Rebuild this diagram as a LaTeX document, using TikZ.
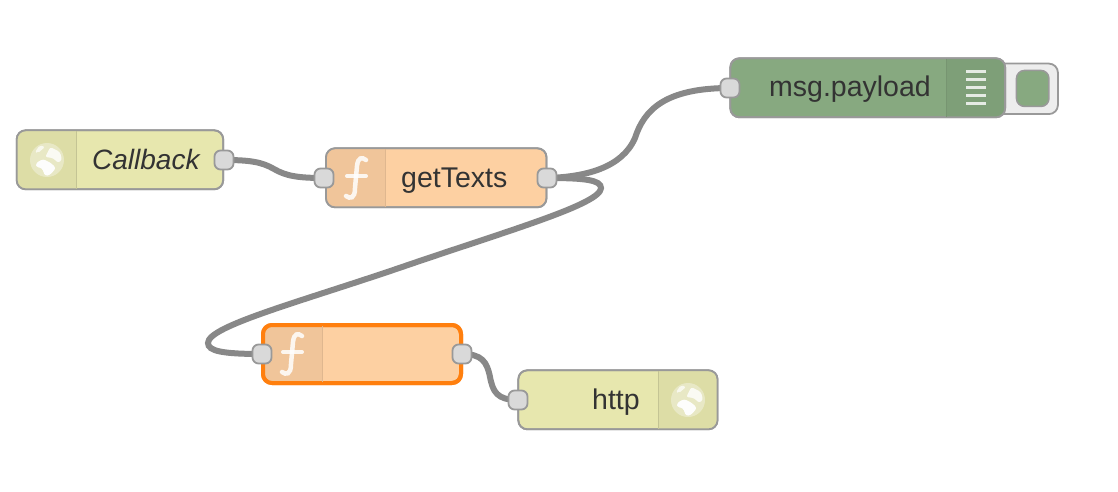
\documentclass[tikz,border=0pt]{standalone}
\usepackage{fontspec}
\setmainfont{Liberation Sans}
\usetikzlibrary{backgrounds}
\definecolor{cinject}{HTML}{E7E7AE}
\definecolor{cinjecticon}{HTML}{DDDDA6}
\definecolor{cfunc}{HTML}{FDD0A2}
\definecolor{cfuncicon}{HTML}{F0C59A}
\definecolor{cdebug}{HTML}{87A980}
\definecolor{cdebugicon}{HTML}{7E9F78}
\definecolor{cborder}{HTML}{999999}
\definecolor{cwire}{HTML}{888888}
\definecolor{cport}{HTML}{D9D9D9}
\definecolor{ctext}{HTML}{333333}
\definecolor{cselect}{HTML}{FF7F0E}
\tikzset{
  x=1pt,y=-1pt,
  flowbody/.style={rectangle,rounded corners=9pt,inner sep=0pt,outer sep=0pt,draw=cborder,line width=1.8pt,minimum height=59pt},
  selectedbody/.style={flowbody,draw=cselect,line width=4pt,minimum height=58pt},
  portbox/.style={rectangle,rounded corners=6pt,inner sep=0pt,draw=cborder,line width=1.8pt,fill=cport,minimum width=19pt,minimum height=19pt},
  wire/.style={draw=cwire,line width=6pt},
  flowlabel/.style={inner sep=0pt,anchor=base west,text=ctext,font=\fontsize{28.5}{30}\selectfont},
  icondiv/.style={line width=1pt,draw=#1},
  fglyph/.style={draw=white,line width=4.5pt,line cap=round,opacity=.85},
}
% #1 name  #2 left edge  #3 top  #4 width  #5 style  #6 fill #7 icon x0 #8 icon x1 #9 icon fill
\newcommand{\flowbox}[9]{%
  \node[#5,fill=#6,minimum width=#4 pt,anchor=north west] (#1) at (#2,#3) {};
  \begin{scope}
    \clip[rounded corners=9pt] (#2,#3) rectangle ++(#4,59);
    \fill[#9] (#7,#3) rectangle (#8,#3+59);
  \end{scope}
  \node[#5,minimum width=#4 pt,anchor=north west] at (#2,#3) {};
}
\newcommand{\globeicon}[2]{%
  \begin{scope}[shift={(#1,#2)}]
    \fill[white,opacity=.35] (0,0) circle (17);
    \fill[white,opacity=.95,rounded corners=2.5pt] (-11,3) -- (-4,-1) -- (4,3) -- (9,8) -- (3,15) -- (-2,16) -- (-5,8) -- (-11,7) -- cycle;
    \fill[white,opacity=.8,rounded corners=2.5pt] (3,-13) -- (13,-8) -- (15,0) -- (11,3) -- (6,-2) -- (-2,-3) -- (1,-8) -- cycle;
    \fill[white,opacity=.7,rounded corners=2pt] (-12,-8) -- (-7,-15) -- (-2,-13) -- (-9,-7) -- cycle;
  \end{scope}
}
\newcommand{\fnicon}[2]{%
  \begin{scope}[shift={(#1,#2)}]
    \draw[fglyph] (10,-18) .. controls (6,-21) and (2,-21) .. (1,-12) -- (-1,10) .. controls (-1,21) and (-6,21) .. (-10,18);
    \draw[fglyph,line width=4pt] (-9,-2) -- (10,-2);
  \end{scope}
}
\begin{document}
\begin{tikzpicture}
\useasboundingbox (0,0) rectangle (1118,492);

% debug button (behind node)
\node[rectangle,rounded corners=9pt,inner sep=0pt,draw=cborder,line width=1.8pt,fill=black!7,minimum width=67pt,minimum height=50.5pt,anchor=north west] (btn) at (990,62.7) {};
\node[rectangle,rounded corners=8pt,inner sep=0pt,draw=cborder,line width=1.5pt,fill=cdebug,minimum width=32.5pt,minimum height=36pt,anchor=north west] (btninner) at (1015.7,69.7) {};

\flowbox{cb}{16.7}{130.3}{206.5}{flowbody}{cinject}{16}{76}{cinjecticon}
\draw[icondiv=cinject!85!black] (76,131) -- (76,189);
\globeicon{47}{160}
\node[flowlabel,font=\fontsize{28}{30}\selectfont\itshape] (cbl) at (92,169) {Callback};

\flowbox{gt}{326}{148.3}{220.5}{flowbody}{cfunc}{325}{385}{cfuncicon}
\draw[icondiv=cfunc!88!black] (385,149) -- (385,207);
\fnicon{356}{178}
\node[flowlabel] (gtl) at (401,187) {getTexts};

\flowbox{dbg}{730.3}{58.3}{274.8}{flowbody}{cdebug}{946}{1006}{cdebugicon}
\draw[icondiv=cdebug!88!black] (946,59) -- (946,117);
\foreach \yy in {72,80,88,96,104} \draw[white,line width=3pt,opacity=.8] (966,\yy) -- (986,\yy);
\node[flowlabel] (dbgl) at (769,97) {msg.payload};

\flowbox{fn}{263}{325}{198}{selectedbody}{cfunc}{262}{322}{cfuncicon}
\draw[icondiv=cfunc!88!black] (322,326) -- (322,382);
\fnicon{292}{354}

\flowbox{ht}{518.3}{370.3}{199.2}{flowbody}{cinject}{658}{718}{cinjecticon}
\draw[icondiv=cinject!85!black] (658,371) -- (658,429);
\globeicon{688}{400}
\node[flowlabel] (htl) at (592,409) {http};

% ports
\node[portbox] (cbout) at (224,160) {};
\node[portbox] (gtin) at (324,178) {};
\node[portbox] (gtout) at (547,178) {};
\node[portbox] (dbgin) at (730,88) {};
\node[portbox] (fnin) at (262,354) {};
\node[portbox] (fnout) at (462,354) {};
\node[portbox] (htin) at (518,400) {};

% wires
\begin{scope}[on background layer]
  \fill[white] (0,0) rectangle (1118,492);
  \draw[wire] (cbout.center) .. controls (250,160) and (262,162) .. (274,169)
     .. controls (286,176) and (298,178) .. (gtin.center);
  \draw[wire] (gtout.center) .. controls (585,177) and (622,168) .. (635,138)
     .. controls (644,110) and (665,88) .. (dbgin.center);
  \draw[wire] (gtout.center) .. controls (585,178) and (601,180) .. (601,188)
     .. controls (601,204) and (510,230) .. (405,266)
     .. controls (300,302) and (208,326) .. (208,343)
     .. controls (208,351) and (222,354) .. (fnin.center);
  \draw[wire] (fnout.center) .. controls (482,354) and (487,362) .. (490,377)
     .. controls (493,392) and (497,400) .. (htin.center);
\end{scope}
\end{tikzpicture}
\end{document}
